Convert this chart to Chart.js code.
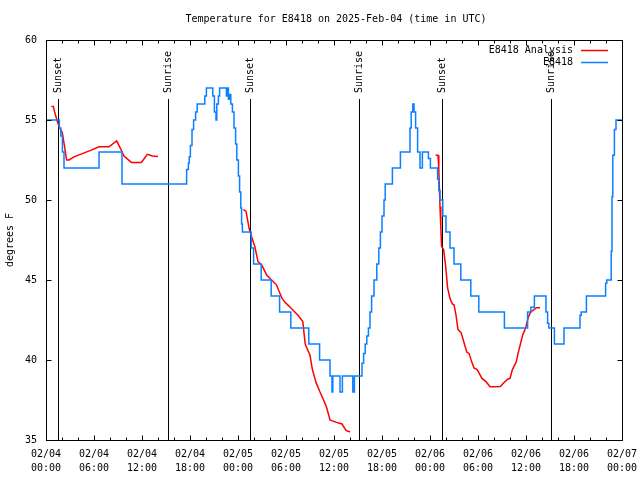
<!DOCTYPE html>
<html lang="en">
<head>
<meta charset="UTF-8">
<title>Temperature for E8418</title>
<style>
  html, body { margin: 0; padding: 0; background: #fff; }
</style>
</head>
<body>
<canvas id="tempChart" width="640" height="480"></canvas>
<script src="https://cdn.jsdelivr.net/npm/chart.js"></script>
<script>
// hours since 2025-02-04 00:00 UTC
const obsHours = [0, 1.67, 1.85, 2.05, 2.25, 6.63, 9.5, 17.58, 17.8, 17.9, 18.05, 18.25, 18.45, 18.7, 18.9,
  19.85, 20.05, 20.85, 21.05, 21.25, 21.35, 21.55, 21.7, 22.55, 22.65, 22.8, 22.95, 23.1, 23.3, 23.5, 23.7,
  23.85, 24.05, 24.2, 24.35, 24.45, 24.55, 25.65, 25.95, 26.9, 28.15, 29.2, 30.6, 32.85, 34.2, 35.5, 35.75,
  35.85, 36.75, 37.05, 38.35, 38.55, 39.5, 39.7, 39.9, 40.1, 40.3, 40.5, 40.7, 41.0, 41.35, 41.6, 41.8, 42.0,
  42.25, 42.4, 43.3, 44.3, 45.5, 45.65, 45.85, 46.0, 46.2, 46.45, 46.75, 47.05, 47.8, 48.05, 48.95, 49.1,
  49.25, 49.6, 50.0, 50.5, 51.0, 51.85, 53.1, 54.1, 57.3, 60.2, 60.6, 61.05, 62.5, 62.7, 62.85, 63.55, 64.75,
  66.75, 66.9, 67.55, 69.95, 70.1, 70.65, 70.75, 70.85, 71.05, 71.25, 72];
const obsTemps = [55, 54.5, 54, 53, 52, 53, 51, 51.9, 52.3, 52.7, 53.4, 54.4, 55, 55.5, 56,
  56.5, 57, 56.5, 55.5, 55, 56, 56.5, 57, 56.5, 57, 56.3, 56.6, 56, 55.5, 54.5, 53.5,
  52.5, 51.5, 50.5, 49.5, 48.5, 48, 47, 46, 45, 44, 43, 42, 41, 40, 39, 38,
  39, 38, 39, 38, 39, 39.8, 40.4, 41, 41.5, 42, 43, 44, 45, 46, 47, 48, 49,
  50, 51, 52, 53, 54.5, 55.5, 56, 55.5, 54.5, 53, 52, 53, 52.6, 52, 51.3, 50.6,
  50, 49, 48, 47, 46, 45, 44, 43, 42, 43, 43.3, 44, 43, 42.3, 42, 41, 42,
  42.8, 43, 44, 44.8, 45, 46.8, 50.2, 52.8, 54.4, 55, 55];

// analysis, null = no data
const anlHours = [0.67, 0.92, 1.08, 1.42, 1.63, 2.04, 2.33, 2.58, 2.88, 3.5, 4.54, 5.58, 6.63, 7.88, 8.83,
  9.33, 9.75, 10.67, 11.92, 12.67, 13.29, 14.0, 19,
  24.67, 25.0, 25.4, 25.7, 26.1, 26.5, 26.96, 27.6, 28.2, 28.8, 29.5, 29.9, 30.7, 31.5, 32.1, 32.4, 33.0,
  33.3, 33.75, 34.25, 34.7, 35.1, 35.5, 36.3, 37.0, 37.5, 38.0, 43,
  48.7, 49.0, 49.1, 49.25, 49.35, 49.45, 49.7, 49.95, 50.2, 50.5, 50.8, 51.0, 51.25, 51.5, 51.9, 52.3, 52.6,
  52.9, 53.2, 53.5, 53.9, 54.5, 55.0, 55.5, 56.0, 56.8, 57.2, 57.7, 58.0, 58.3, 58.8, 59.0, 59.3, 59.6,
  59.8, 60.0, 60.3, 60.6, 61.0, 61.3, 61.75];
const anlTemps = [55.85, 55.85, 55.5, 54.9, 54.6, 54.2, 53.3, 52.5, 52.5, 52.7, 52.9, 53.1, 53.33, 53.33, 53.7,
  53.2, 52.75, 52.35, 52.35, 52.85, 52.75, 52.72, null,
  49.4, 49.3, 48.2, 47.7, 47.1, 46.15, 45.94, 45.3, 45.0, 44.7, 43.85, 43.6, 43.2, 42.8, 42.4, 41.0, 40.3,
  39.4, 38.6, 38.0, 37.5, 37.0, 36.25, 36.1, 36.0, 35.6, 35.5, null,
  52.8, 52.8, 51.9, 49.6, 48.3, 47.1, 46.9, 45.9, 44.5, 43.85, 43.5, 43.45, 42.8, 41.9, 41.7, 41.0, 40.5,
  40.4, 39.9, 39.5, 39.4, 38.85, 38.65, 38.33, 38.33, 38.35, 38.56, 38.8, 38.85, 39.4, 39.9, 40.4, 41.0, 41.6,
  41.8, 42.1, 42.7, 43.0, 43.15, 43.27, 43.27];

const sunHours = [1.54, 15.29, 25.56, 39.17, 49.5, 63.17];
const sunLabels = ['Sunset', 'Sunrise', 'Sunset', 'Sunrise', 'Sunset', 'Sunrise'];
const dayLabels = ['02/04', '02/05', '02/06', '02/07'];

const FONT = '"DejaVu Sans Mono", "Liberation Mono", monospace';
const RED = '#ff0000';
const BLUE = '#0a80ff';

function xy(hours, temps) {
  return hours.map((h, i) => ({ x: h, y: temps[i] }));
}

// gnuplot-style frame: border, inward ticks, title, sun markers, legend
const gnuFrame = {
  id: 'gnuFrame',
  beforeDatasetsDraw(chart) {
    const { ctx, chartArea: a, scales: { x } } = chart;
    ctx.save();
    ctx.strokeStyle = '#000';
    ctx.fillStyle = '#000';
    ctx.lineWidth = 1;
    ctx.font = '10px ' + FONT;
    sunHours.forEach((h, i) => {
      const px = Math.round(x.getPixelForValue(h)) + 0.5;
      ctx.beginPath();
      ctx.moveTo(px, a.top + 59);
      ctx.lineTo(px, a.bottom);
      ctx.stroke();
      ctx.save();
      ctx.translate(px, a.top + 53);
      ctx.rotate(-Math.PI / 2);
      ctx.textAlign = 'left';
      ctx.textBaseline = 'middle';
      ctx.fillText(sunLabels[i], 0, 0);
      ctx.restore();
    });
    ctx.restore();
  },
  afterDraw(chart) {
    const { ctx, chartArea: a, scales: { x, y } } = chart;
    const L = Math.round(a.left) + 0.5, R = Math.round(a.right) + 0.5;
    const T = Math.round(a.top) + 0.5, B = Math.round(a.bottom) + 0.5;
    ctx.save();
    ctx.strokeStyle = '#000';
    ctx.lineWidth = 1;
    ctx.strokeRect(L, T, R - L, B - T);

    ctx.beginPath();
    for (let h = x.min; h <= x.max; h += 2) {
      const px = Math.round(x.getPixelForValue(h)) + 0.5;
      const len = h % 6 === 0 ? 5 : 3;
      ctx.moveTo(px, B); ctx.lineTo(px, B - len);
      ctx.moveTo(px, T); ctx.lineTo(px, T + len);
    }
    y.ticks.forEach(t => {
      const py = Math.round(y.getPixelForValue(t.value)) + 0.5;
      ctx.moveTo(L, py); ctx.lineTo(L + 5, py);
      ctx.moveTo(R, py); ctx.lineTo(R - 5, py);
    });
    ctx.stroke();

    ctx.fillStyle = '#000';
    ctx.font = '10px ' + FONT;
    ctx.textAlign = 'center';
    ctx.textBaseline = 'middle';
    ctx.fillText('Temperature for E8418 on 2025-Feb-04 (time in UTC)', (a.left + a.right) / 2 + 2, 19);

    // legend
    const items = [['E8418 Analysis', RED], ['E8418', BLUE]];
    ctx.textAlign = 'right';
    items.forEach(([label, color], i) => {
      const ly = a.top + 10 + i * 12;
      ctx.fillStyle = '#000';
      ctx.fillText(label, a.right - 49, ly);
      ctx.strokeStyle = color;
      ctx.lineWidth = 1.5;
      ctx.beginPath();
      ctx.moveTo(a.right - 41, Math.round(ly) + 0.5);
      ctx.lineTo(a.right - 14, Math.round(ly) + 0.5);
      ctx.stroke();
    });
    ctx.restore();
  }
};

new Chart(document.getElementById('tempChart'), {
  type: 'line',
  data: {
    datasets: [
      {
        label: 'E8418',
        data: xy(obsHours, obsTemps),
        borderColor: BLUE,
        borderWidth: 1.5,
        pointRadius: 0,
        stepped: 'before',
        fill: false,
        order: 0
      },
      {
        label: 'E8418 Analysis',
        data: xy(anlHours, anlTemps),
        borderColor: RED,
        borderWidth: 1.5,
        pointRadius: 0,
        spanGaps: false,
        fill: false,
        order: 1
      }
    ]
  },
  options: {
    responsive: false,
    animation: false,
    layout: { padding: { left: 0, right: 18, top: 40, bottom: 0 } },
    plugins: {
      legend: { display: false },
      tooltip: { enabled: false },
      title: { display: false }
    },
    scales: {
      x: {
        type: 'linear',
        min: 0,
        max: 72,
        grid: { display: false, drawTicks: false },
        border: { display: false },
        ticks: {
          stepSize: 6,
          autoSkip: false,
          maxRotation: 0,
          padding: 7,
          color: '#000',
          font: { family: FONT, size: 10, lineHeight: 1.4 },
          callback: v => [dayLabels[Math.floor(v / 24)], String(v % 24).padStart(2, '0') + ':00']
        },
        afterFit: s => {
          s.height = 40;
          s.paddingLeft = 0;
          s.paddingRight = 0;
        }
      },
      y: {
        min: 35,
        max: 60,
        grid: { display: false, drawTicks: false },
        border: { display: false },
        ticks: {
          stepSize: 5,
          padding: 9,
          color: '#000',
          font: { family: FONT, size: 10 }
        },
        title: {
          display: true,
          text: 'degrees F',
          color: '#000',
          font: { family: FONT, size: 10 }
        },
        afterFit: s => { s.width = 46; }
      }
    }
  },
  plugins: [gnuFrame]
});
</script>
</body>
</html>
